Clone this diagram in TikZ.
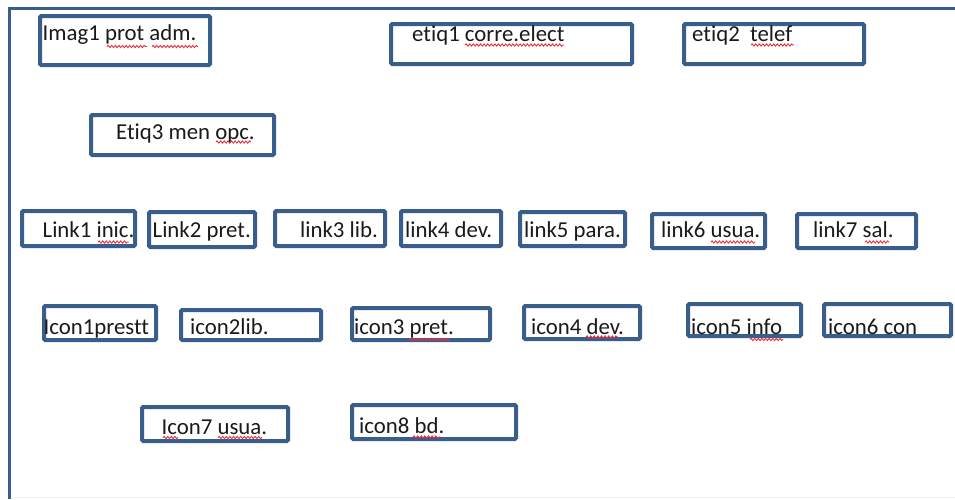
\documentclass[tikz,border=0pt]{standalone}
\usepackage{fontspec}
\setmainfont[Ligatures={NoCommon}]{Carlito}
\usetikzlibrary{decorations.pathmorphing}
\definecolor{boxblue}{HTML}{3A5E8C}
\definecolor{txtcol}{HTML}{1A1A1A}
\definecolor{squig}{HTML}{E8313F}
\tikzset{
  box/.style={draw=boxblue, line width=4pt, rounded corners=1.2pt, inner sep=0pt, anchor=north west, fill=none},
  txt/.style={anchor=base west, inner sep=0pt, text=txtcol, font=\fontsize{22.8}{27}\selectfont},
  frameline/.style={draw=boxblue, line width=3pt},
  squiggle/.style={draw=squig, line width=0.9pt, decorate, decoration={snake, amplitude=1.1pt, segment length=3.6pt}}
}
\begin{document}
\begin{tikzpicture}[x=1pt,y=-1pt]
\useasboundingbox (0,0) rectangle (955,499);
\fill[white] (0,0) rectangle (955,499);
% outer frame
\coordinate (fb) at (9.5,499);
\coordinate (ftl) at (9.5,8.5);
\coordinate (fr) at (955,8.5);
\draw[frameline] (fb) -- (ftl) -- (fr);
\coordinate (gl) at (11,497.5);
\coordinate (gr) at (955,497.5);
\draw[black!6, line width=1pt] (gl) -- (gr);

% boxes (positions = outer top-left corner)
\node[box, minimum width=170pt, minimum height=49pt] (b1) at (38,14) {};
\node[box, minimum width=241pt, minimum height=40pt] (b2) at (389,22) {};
\node[box, minimum width=180pt, minimum height=40pt] (b3) at (682,22) {};
\node[box, minimum width=183pt, minimum height=40pt] (b4) at (89,113) {};
\node[box, minimum width=113pt, minimum height=35pt] (b5) at (20,209) {};
\node[box, minimum width=106pt, minimum height=35pt] (b6) at (147,210) {};
\node[box, minimum width=110pt, minimum height=35pt] (b7) at (273,209) {};
\node[box, minimum width=100pt, minimum height=35pt] (b8) at (399,209) {};
\node[box, minimum width=105pt, minimum height=34pt] (b9) at (518,210) {};
\node[box, minimum width=113pt, minimum height=34pt] (b10) at (650,212) {};
\node[box, minimum width=119pt, minimum height=34pt] (b11) at (795,212) {};
\node[box, minimum width=112pt, minimum height=34pt] (b12) at (42,304) {};
\node[box, minimum width=140pt, minimum height=30pt] (b13) at (179,308) {};
\node[box, minimum width=138pt, minimum height=32pt] (b14) at (350,306) {};
\node[box, minimum width=116pt, minimum height=33pt] (b15) at (522,304) {};
\node[box, minimum width=113pt, minimum height=32pt] (b16) at (686,302) {};
\node[box, minimum width=127pt, minimum height=32pt] (b17) at (822,302) {};
\node[box, minimum width=146pt, minimum height=34pt] (b18) at (140,405) {};
\node[box, minimum width=164pt, minimum height=34pt] (b19) at (350,403) {};

% texts
\node[txt] (t1) at (42.5,40.5) {Imag1 prot adm.};
\node[txt] (t2) at (412,41) {etiq1 corre.elect};
\node[txt] (t3) at (692,41) {etiq2\ \ telef};
\node[txt] (t4) at (116,139) {Etiq3 men opc.};
\node[txt] (t5) at (42.5,237) {Link1 inic.};
\node[txt] (t6) at (152.5,237) {Link2 pret.};
\node[txt] (t7) at (300,237) {link3 lib.};
\node[txt] (t8) at (405,237) {link4 dev.};
\node[txt] (t9) at (524,237) {link5 para.};
\node[txt] (t10) at (661,237) {link6 usua.};
\node[txt] (t11) at (813,237) {link7 sal.};
\node[txt] (t12) at (43.5,334) {Icon1prestt};
\node[txt] (t13) at (190,334) {icon2lib.};
\node[txt] (t14) at (354,334) {icon3 pret.};
\node[txt] (t15) at (531,334) {icon4 dev.};
\node[txt] (t16) at (691,334) {icon5 info};
\node[txt] (t17) at (828,334) {icon6 con};
\node[txt] (t18) at (161.5,434) {Icon7 usua.};
\node[txt] (t19) at (359,433) {icon8 bd.};

% spell-check squiggles
\draw[squiggle] (107,46.5) -- (147,46.5);
\draw[squiggle] (152,46.5) -- (198,46.5);
\draw[squiggle] (465,45) -- (564,45);
\draw[squiggle] (751,45) -- (794,45);
\draw[squiggle] (216,142) -- (251,142);
\draw[squiggle] (98,242) -- (129,242);
\draw[squiggle] (711,242) -- (755,242);
\draw[squiggle] (865,242) -- (889,242);
\draw[squiggle] (409,339.5) -- (450,339.5);
\draw[squiggle] (586,337) -- (618,337);
\draw[squiggle] (750,339.5) -- (783,339.5);
\draw[squiggle] (163,437.5) -- (178,437.5);
\draw[squiggle] (218,437.5) -- (262,437.5);
\draw[squiggle] (413,437) -- (440,437);
\end{tikzpicture}
\end{document}
